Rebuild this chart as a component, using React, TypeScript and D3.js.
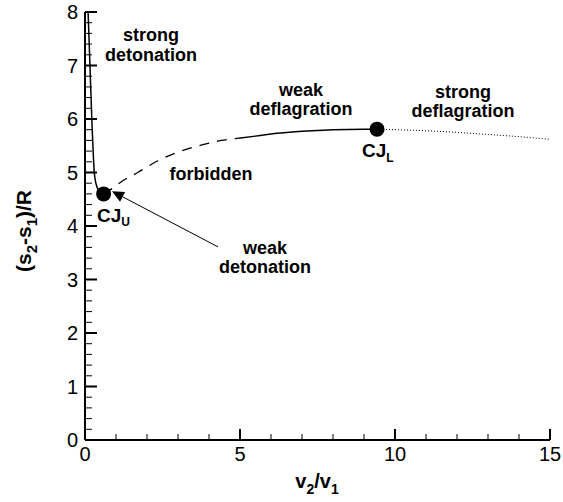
import React from "react";
import * as d3 from "d3";

const W = 563;
const H = 502;

// strong detonation branch (solid)
const strongDetV = [0.1, 0.13, 0.16, 0.22, 0.3, 0.36, 0.45, 0.52, 0.6];
const strongDetS = [8.0, 7.5, 7.0, 6.0, 5.0, 4.78, 4.66, 4.62, 4.6];
// forbidden region (dashed)
const forbiddenV = [0.6, 0.9, 1.23, 1.7, 2.35, 3.05, 3.8, 4.4, 4.95];
const forbiddenS = [4.6, 4.71, 4.85, 5.0, 5.22, 5.39, 5.52, 5.6, 5.64];
// weak deflagration (solid)
const weakDefV = [4.95, 5.5, 6.0, 7.0, 8.0, 9.0, 9.42];
const weakDefS = [5.64, 5.68, 5.72, 5.77, 5.8, 5.81, 5.81];
// strong deflagration (dotted)
const strongDefV = [9.42, 10, 11, 12, 13, 14, 15];
const strongDefS = [5.81, 5.8, 5.78, 5.75, 5.71, 5.67, 5.62];

// CJ points
const cjV = [0.6, 9.42];
const cjS = [4.6, 5.81];

// arrow (weak detonation pointer)
const arrowV = [4.29, 0.87];
const arrowS = [3.61, 4.65];

const xTicks = [0, 5, 10, 15];
const yTicks = [0, 1, 2, 3, 4, 5, 6, 7, 8];

const FONT = "'Liberation Sans', Arial, Helvetica, sans-serif";

export default function App() {
  const x = d3.scaleLinear().domain([0, 15]).range([85, 550]);
  const y = d3.scaleLinear().domain([0, 8]).range([440, 12]);

  const mk = (vs: number[], ss: number[]) =>
    d3
      .line<number>()
      .x((_, i) => x(vs[i]))
      .y((_, i) => y(ss[i]))
      .curve(d3.curveMonotoneX)(vs.map((_, i) => i)) || "";

  const xMinor = d3.range(0, 15.001, 1).filter((v) => v % 5 !== 0);
  const yMinor = d3.range(0, 8.001, 0.2).filter((v) => Math.abs(v - Math.round(v)) > 1e-6);

  // arrow geometry
  const ax0 = x(arrowV[0]), ay0 = y(arrowS[0]);
  const ax1 = x(arrowV[1]), ay1 = y(arrowS[1]);
  const ang = Math.atan2(ay1 - ay0, ax1 - ax0);
  const hl = 12, hw = 5.5;
  const bx = ax1 - hl * Math.cos(ang), by = ay1 - hl * Math.sin(ang);
  const tri = [
    [ax1, ay1],
    [bx + hw * Math.sin(ang), by - hw * Math.cos(ang)],
    [bx - hw * Math.sin(ang), by + hw * Math.cos(ang)],
  ];

  const lbl = { fontFamily: FONT, fontWeight: 700, fontSize: 18, textAnchor: "middle" as const };

  return (
    <svg width={W} height={H} style={{ position: "absolute", left: 0, top: 0, background: "#fff" }}>
      {/* curves */}
      <path d={mk(strongDetV, strongDetS)} fill="none" stroke="#000" strokeWidth={1.5} />
      <path d={mk(forbiddenV, forbiddenS)} fill="none" stroke="#000" strokeWidth={1.3} strokeDasharray="10,8" />
      <path d={mk(weakDefV, weakDefS)} fill="none" stroke="#000" strokeWidth={1.5} />
      <path d={mk(strongDefV, strongDefS)} fill="none" stroke="#000" strokeWidth={1} strokeDasharray="1,2" />

      {/* CJ points */}
      {cjV.map((v, i) => (
        <circle key={i} cx={x(v)} cy={y(cjS[i])} r={7.5} fill="#000" />
      ))}

      {/* arrow */}
      <line x1={ax0} y1={ay0} x2={bx} y2={by} stroke="#000" strokeWidth={1} />
      <polygon points={tri.map((p) => p.join(",")).join(" ")} fill="#000" />

      {/* axes */}
      <line x1={85} y1={440} x2={550} y2={440} stroke="#000" strokeWidth={2} />
      <line x1={85} y1={440} x2={85} y2={12} stroke="#000" strokeWidth={2} />
      {xTicks.map((t) => (
        <g key={"xt" + t}>
          <line x1={x(t)} x2={x(t)} y1={440} y2={429} stroke="#000" strokeWidth={2} />
          <text x={x(t)} y={461} fontFamily={FONT} fontSize={20} textAnchor="middle">
            {t}
          </text>
        </g>
      ))}
      {xMinor.map((t) => (
        <line key={"xm" + t} x1={x(t)} x2={x(t)} y1={440} y2={434} stroke="#000" strokeWidth={1} />
      ))}
      {yTicks.map((t) => (
        <g key={"yt" + t}>
          <line x1={85} x2={97} y1={y(t)} y2={y(t)} stroke="#000" strokeWidth={2} />
          <text x={78} y={y(t) + 7} fontFamily={FONT} fontSize={20} textAnchor="end">
            {t}
          </text>
        </g>
      ))}
      {yMinor.map((t) => (
        <line key={"ym" + t} x1={85} x2={92} y1={y(t)} y2={y(t)} stroke="#000" strokeWidth={1} />
      ))}

      {/* axis titles */}
      <text x={317} y={488} {...lbl} fontSize={20}>
        v<tspan fontSize={14} dy={6}>2</tspan>
        <tspan dy={-6}>/v</tspan>
        <tspan fontSize={14} dy={6}>1</tspan>
      </text>
      <text transform="translate(31,231) rotate(-90)" {...lbl} fontSize={21}>
        (s<tspan fontSize={15} dy={6}>2</tspan>
        <tspan dy={-6}>-s</tspan>
        <tspan fontSize={15} dy={6}>1</tspan>
        <tspan dy={-6}>)/R</tspan>
      </text>

      {/* region labels */}
      <text x={151} y={41} {...lbl}>strong</text>
      <text x={151} y={61} {...lbl}>detonation</text>
      <text x={301} y={96} {...lbl}>weak</text>
      <text x={301} y={115} {...lbl}>deflagration</text>
      <text x={463} y={98} {...lbl}>strong</text>
      <text x={463} y={117} {...lbl}>deflagration</text>
      <text x={211} y={180} {...lbl}>forbidden</text>
      <text x={265} y={254} {...lbl}>weak</text>
      <text x={265} y={273} {...lbl}>detonation</text>

      {/* CJ labels */}
      <text x={97} y={222} fontFamily={FONT} fontWeight={700} fontSize={19}>
        CJ<tspan fontSize={12} dy={4}>U</tspan>
      </text>
      <text x={362} y={157} fontFamily={FONT} fontWeight={700} fontSize={19}>
        CJ<tspan fontSize={12} dy={5}>L</tspan>
      </text>
    </svg>
  );
}
